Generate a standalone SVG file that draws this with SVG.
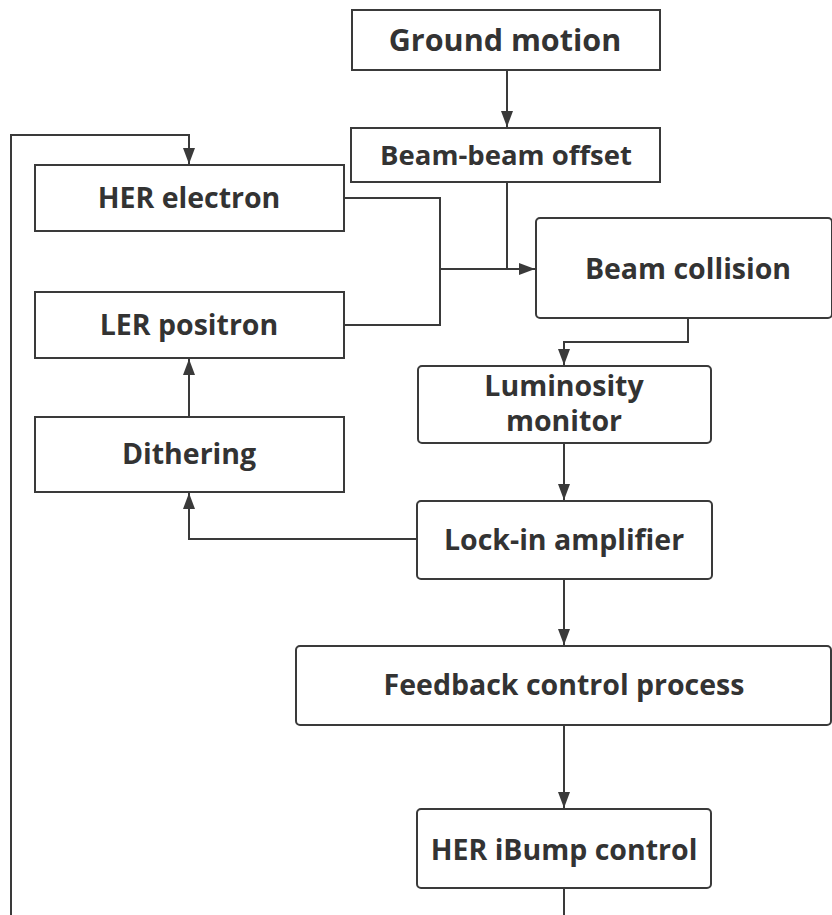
<svg xmlns="http://www.w3.org/2000/svg" width="832" height="915" viewBox="0 0 832 915">
<defs>
<style>
.box{fill:#fff;stroke:#3a3a3a;stroke-width:2}
.lbl{font-family:"Open Sans","Noto Sans","Liberation Sans",sans-serif;font-weight:700;fill:#333;text-anchor:middle;font-size:28.5px}
.lg{font-size:30.5px}
.sm{font-size:27.5px}
.ln{fill:none;stroke:#3a3a3a;stroke-width:2}
</style>
<marker id="ah" viewBox="0 0 16 12" refX="16" refY="6" markerWidth="16" markerHeight="12" markerUnits="userSpaceOnUse" orient="auto">
<path d="M0,0 L16,6 L0,12 z" fill="#3a3a3a"/>
</marker>
</defs>
<rect width="832" height="915" fill="#fff"/>
<g id="connectors">
<path class="ln" d="M507,70 V127" marker-end="url(#ah)"/>
<path class="ln" d="M11,915 V135 H189 V164" marker-end="url(#ah)"/>
<path class="ln" d="M344,198 H440 V325 H344"/>
<path class="ln" d="M440,269 H535" marker-end="url(#ah)"/>
<path class="ln" d="M507,182 V269"/>
<path class="ln" d="M688,318 V342 H564 V365" marker-end="url(#ah)"/>
<path class="ln" d="M189,417 V359" marker-end="url(#ah)"/>
<path class="ln" d="M417,539 H189 V493" marker-end="url(#ah)"/>
<path class="ln" d="M564,443 V500" marker-end="url(#ah)"/>
<path class="ln" d="M564,579 V645" marker-end="url(#ah)"/>
<path class="ln" d="M564,725 V808" marker-end="url(#ah)"/>
<path class="ln" d="M564,888 V915"/>
</g>
<g id="ground-motion"><rect class="box" x="352" y="10" width="308" height="60"/><text class="lbl lg" x="505" y="51">Ground motion</text></g>
<g id="beam-beam-offset"><rect class="box" x="351" y="128" width="309" height="54"/><text class="lbl sm" x="506" y="165">Beam-beam offset</text></g>
<g id="her-electron"><rect class="box" x="35" y="165" width="309" height="66"/><text class="lbl" x="189" y="208">HER electron</text></g>
<g id="ler-positron"><rect class="box" x="35" y="292" width="309" height="66"/><text class="lbl" x="189" y="335">LER positron</text></g>
<g id="dithering"><rect class="box" x="35" y="417" width="309" height="75"/><text class="lbl" x="189" y="464">Dithering</text></g>
<g id="beam-collision"><rect class="box" x="536" y="218" width="296" height="100" rx="4"/><text class="lbl" x="688" y="279">Beam collision</text></g>
<g id="luminosity-monitor"><rect class="box" x="418" y="366" width="293" height="77" rx="4"/><text class="lbl" x="564" y="396">Luminosity</text><text class="lbl" x="564" y="431">monitor</text></g>
<g id="lock-in-amplifier"><rect class="box" x="417" y="501" width="295" height="78" rx="4"/><text class="lbl" x="564" y="550">Lock-in amplifier</text></g>
<g id="feedback-control"><rect class="box" x="296" y="646" width="535" height="79" rx="4"/><text class="lbl" x="564" y="695">Feedback control process</text></g>
<g id="her-ibump"><rect class="box" x="417" y="809" width="294" height="79" rx="4"/><text class="lbl" x="564" y="860">HER iBump control</text></g>
</svg>
